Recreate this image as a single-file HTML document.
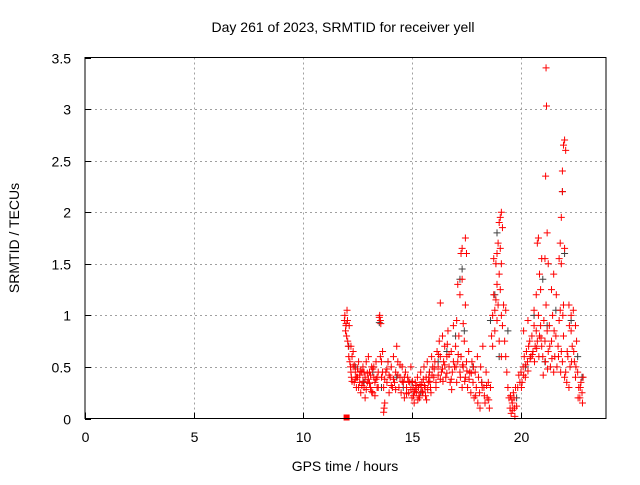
<!DOCTYPE html>
<html><head><meta charset="utf-8"><style>
body{margin:0;background:#fff;}
svg text{font-family:"Liberation Sans",sans-serif;font-size:14px;fill:#000;}
</style></head><body>
<svg id="chart" width="640" height="480" xmlns="http://www.w3.org/2000/svg">
<rect width="640" height="480" fill="#fff"/>
<g id="grid"></g>
<g id="gray"></g>
<g id="red"></g>
<rect x="85" y="57.5" width="521" height="361" fill="none" stroke="#000" stroke-width="1"/>
<g id="ticks"></g>
<text x="343" y="32" text-anchor="middle">Day 261 of 2023, SRMTID for receiver yell</text>
<text x="345" y="471" text-anchor="middle">GPS time / hours</text>
<text x="19" y="238" text-anchor="middle" transform="rotate(-90 19 238)">SRMTID / TECUs</text>
</svg>
<script>
const xTicks=[0,5,10,15,20];
const yTicks=[0,0.5,1,1.5,2,2.5,3,3.5];
const yTickLabels=["0","0.5","1","1.5","2","2.5","3","3.5"];
const redPoints=[
[11.9,0.95],[11.92,1.0],[11.95,0.85],[11.97,0.9],[12.0,0.8],[12.02,1.05],[12.05,0.75],[12.08,0.7],[12.1,0.6],[12.12,0.9],[11.98,0.92],[12.04,0.95],
[12.15,0.55],[12.18,0.5],[12.2,0.45],[12.22,0.4],[12.25,0.6],[12.3,0.5],[12.35,0.35],[12.4,0.45],[12.45,0.3],[12.5,0.4],[12.55,0.55],[12.6,0.35],[12.65,0.25],[12.7,0.45],[12.75,0.5],[12.8,0.3],[12.85,0.4],[12.9,0.55],[12.95,0.35],[13.0,0.6],[13.05,0.45],[13.1,0.3],[13.15,0.5],[13.2,0.25],[13.25,0.4],[13.3,0.35],[13.35,0.55],[13.4,0.3],[13.45,0.45],
[12.2,0.7],[12.3,0.65],[12.4,0.38],[12.5,0.48],[12.6,0.42],[12.7,0.32],[12.8,0.45],[12.9,0.28],[13.0,0.38],[13.1,0.42],[13.2,0.48],[13.3,0.22],[13.4,0.4],[12.25,0.36],[12.35,0.52],[12.45,0.4],[12.55,0.3],[12.65,0.46],[12.75,0.36],[12.85,0.2],[12.95,0.44],[13.05,0.34],[13.15,0.26],[13.25,0.5],[13.35,0.38],[13.45,0.3],
[13.5,0.98],[13.52,1.0],[13.55,0.95],[13.57,0.92],[13.55,0.6],[13.6,0.55],
[13.6,0.4],[13.65,0.65],[13.7,0.3],[13.75,0.15],[13.8,0.45],[13.85,0.35],[13.9,0.55],[13.95,0.25],[14.0,0.4],[14.05,0.5],[14.1,0.3],[14.15,0.6],[14.2,0.35],[14.25,0.45],[14.3,0.7],[14.35,0.55],[14.4,0.3],[14.45,0.4],[14.5,0.25],[14.55,0.5],[14.6,0.35],[14.65,0.2],[14.7,0.45],[14.75,0.3],[14.8,0.4],[14.85,0.25],[14.9,0.35],[14.95,0.5],
[13.65,0.45],[13.75,0.38],[13.85,0.48],[13.95,0.42],[14.05,0.32],[14.15,0.38],[14.25,0.28],[14.35,0.42],[14.45,0.52],[14.55,0.36],[14.65,0.4],[14.75,0.24],[14.85,0.36],[14.95,0.28],[13.7,0.06],[13.72,0.1],
[15.0,0.2],[15.05,0.3],[15.1,0.15],[15.15,0.35],[15.2,0.25],[15.25,0.4],[15.3,0.3],[15.35,0.2],[15.4,0.45],[15.45,0.35],[15.5,0.25],[15.55,0.5],[15.6,0.3],[15.65,0.4],[15.7,0.55],[15.75,0.35],[15.8,0.45],[15.85,0.3],[15.9,0.6],[15.95,0.5],
[15.02,0.36],[15.12,0.26],[15.22,0.32],[15.32,0.22],[15.42,0.3],[15.52,0.38],[15.62,0.22],[15.72,0.28],[15.82,0.36],[15.92,0.42],[15.07,0.22],[15.17,0.28],[15.27,0.18],[15.37,0.33],[15.47,0.26],[15.57,0.32],[15.67,0.18],[15.77,0.4],[15.87,0.25],
[16.0,0.4],[16.05,0.55],[16.1,0.35],[16.15,0.65],[16.2,0.5],[16.25,0.75],[16.3,0.6],[16.35,0.45],[16.4,0.8],[16.3,1.12],[16.45,0.55],[16.5,0.7],[16.55,0.4],[16.6,0.6],[16.65,0.85],[16.7,0.5],[16.75,0.35],[16.8,0.65],[16.85,0.45],[16.9,0.9],[16.95,0.5],
[16.1,0.3],[16.2,0.42],[16.3,0.38],[16.4,0.48],[16.5,0.52],[16.6,0.44],[16.7,0.62],[16.8,0.38],[16.9,0.55],[16.02,0.48],[16.22,0.62],[16.42,0.36],[16.62,0.72],[16.82,0.28],
[17.0,0.7],[17.05,0.35],[17.1,0.55],[17.15,0.8],[17.2,0.45],[17.25,0.6],[17.3,0.3],[17.35,0.5],[17.4,0.75],[17.45,0.4],[17.5,0.55],[17.55,0.3],[17.6,0.65],[17.65,0.45],[17.7,0.25],[17.75,0.55],[17.8,0.35],[17.85,0.2],[17.9,0.45],[17.95,0.3],
[17.02,0.5],[17.12,0.62],[17.22,0.4],[17.32,0.52],[17.42,0.36],[17.52,0.46],[17.62,0.38],[17.72,0.44],[17.82,0.5],[17.92,0.22],
[17.25,1.6],[17.3,1.65],[17.45,1.75],[17.1,1.3],[17.2,1.2],[17.3,1.35],[17.45,1.1],[17.5,1.6],[17.05,0.95],[17.35,0.92],
[18.0,0.6],[18.05,0.4],[18.1,0.25],[18.15,0.5],[18.2,0.35],[18.25,0.7],[18.3,0.3],[18.35,0.15],[18.4,0.45],[18.45,0.2],[18.5,0.35],[18.55,0.1],[18.6,0.3],[18.02,0.15],[18.12,0.1],[18.22,0.3],[18.32,0.22],[18.42,0.32],[18.52,0.18],
[18.65,0.8],[18.7,1.0],[18.75,1.2],[18.8,1.05],[18.85,1.15],[18.9,1.3],[18.95,1.1],[19.0,1.4],[19.05,1.25],[19.1,1.0],[19.15,0.9],[18.7,0.7],[18.8,0.85],[18.9,0.95],[19.0,0.75],[19.1,0.6],
[18.9,1.6],[18.95,1.7],[19.0,1.9],[19.05,1.95],[19.1,2.0],[19.15,1.85],[18.85,1.5],[18.75,1.55],[19.05,1.65],[19.1,1.5],
[19.2,1.1],[19.25,0.75],[19.3,0.6],[19.35,0.45],[19.4,0.3],[19.45,0.2],[19.5,0.1],[19.55,0.05],[19.6,0.15],[19.65,0.25],[19.7,0.1],[19.75,0.3],[19.52,0.22],[19.58,0.18],[19.62,0.08],[19.68,0.2],[19.72,0.02],[19.8,0.12],[19.85,0.3],[19.9,0.42],[19.95,0.35],[19.3,1.05],
[20.0,0.45],[20.05,0.35],[20.1,0.5],[20.15,0.6],[20.2,0.4],[20.25,0.65],[20.3,0.55],[20.35,0.7],[20.4,0.75],[20.45,0.6],[20.5,0.8],[20.55,0.65],[20.6,0.9],[20.65,0.7],[20.7,0.85],[20.75,0.75],[20.8,1.0],[20.85,0.8],[20.9,0.9],[20.95,0.7],
[20.02,0.3],[20.12,0.42],[20.22,0.52],[20.32,0.46],[20.42,0.58],[20.52,0.62],[20.62,0.55],[20.72,0.68],[20.82,0.6],[20.92,0.78],[20.12,0.85],[20.32,0.95],[20.6,1.05],
[20.7,1.2],[20.75,1.7],[20.8,1.75],[20.85,1.4],[20.9,1.25],[20.95,1.55],
[21.0,0.6],[21.05,0.95],[21.1,0.75],[21.15,1.1],[21.2,0.85],[21.25,0.65],[21.3,0.9],[21.35,0.5],[21.4,0.75],[21.45,1.0],[21.5,0.45],[21.55,0.6],[21.6,0.8],[21.65,0.5],[21.7,0.7],[21.75,0.95],[21.8,1.05],[21.85,0.65],[21.9,0.55],[21.95,0.8],
[21.02,0.42],[21.12,0.55],[21.22,0.48],[21.32,0.7],[21.42,0.58],[21.52,0.85],[21.62,1.2],[21.72,0.6],[21.82,0.45],[21.92,1.0],
[21.15,3.4],[21.17,3.03],[21.13,2.35],[21.2,1.8],[21.1,1.55],[21.25,1.5],[21.4,1.25],[21.5,1.4],
[21.8,1.7],[21.85,1.95],[21.9,2.4],[21.95,2.65],[22.0,2.7],[22.05,2.6],[21.9,2.2],[21.75,1.55],[21.85,1.5],[22.0,1.65],[21.95,1.1],[22.0,0.4],
[22.05,0.45],[22.1,0.35],[22.15,0.6],[22.2,0.3],[22.25,0.5],[22.3,0.85],[22.35,0.7],[22.4,1.05],[22.45,0.55],[22.5,0.4],[22.55,0.75],[22.6,0.45],[22.65,0.3],[22.7,0.2],[22.75,0.35],[22.8,0.25],[22.85,0.4],
[22.12,0.65],[22.22,0.9],[22.32,0.55],[22.42,0.65],[22.52,0.5],[22.62,0.2],[22.72,0.3],[22.82,0.15],[22.2,1.1],[22.3,1.0],[22.5,0.9]
];
const grayPoints=[[12.1,0.7],[12.4,0.5],[12.8,0.35],[13.2,0.45],[13.6,0.3],[13.9,0.55],[14.3,0.4],[14.6,0.3],[15.0,0.35],[15.4,0.25],[15.8,0.45],[16.2,0.55],[16.6,0.65],[17.0,0.8],[17.2,1.35],[17.4,0.85],[17.8,0.5],[18.2,0.35],[18.6,0.95],[18.8,1.2],[19.0,0.6],[19.4,0.85],[19.8,0.2],[20.2,0.5],[20.6,1.0],[21.0,1.35],[21.2,0.9],[21.6,1.05],[21.9,2.2],[22.0,1.6],[22.3,0.95],[22.6,0.6],[22.8,0.4],[17.3,1.45],[18.9,1.8],[13.5,0.93],[21.1,0.55]];
const ns="http://www.w3.org/2000/svg";
const L=85,R=606,T=57.5,B=418.5,XMAX=23.9,YMAX=3.5;
const sx=v=>L+(R-L)*v/XMAX, sy=v=>B-(B-T)*v/YMAX;
function mk(t,a,p){const e=document.createElementNS(ns,t);for(const k in a)e.setAttribute(k,a[k]);p.appendChild(e);return e;}
const grid=document.getElementById('grid'),ticks=document.getElementById('ticks');
xTicks.forEach(v=>{const x=Math.round(sx(v))+0.5;
 if(v>0){const g=mk('line',{x1:x,x2:x,y1:T,y2:B,stroke:'#a0a0a0','stroke-dasharray':'2,3'},grid);}
 const t=mk('line',{x1:x,x2:x,y1:B,y2:B-6,stroke:'#000'},ticks);
 const l=mk('text',{x:x,y:442,'text-anchor':'middle'},ticks);l.textContent=v;});
yTicks.forEach((v,i)=>{const y=Math.round(sy(v))+0.5;
 if(v>0&&v<3.5){const g=mk('line',{x1:L,x2:R,y1:y,y2:y,stroke:'#a0a0a0','stroke-dasharray':'2,3'},grid);}
 const t=mk('line',{x1:L,x2:L+6,y1:y,y2:y,stroke:'#000'},ticks);
 const l=mk('text',{x:71,y:y+5,'text-anchor':'end'},ticks);l.textContent=yTickLabels[i];});
function plus(x,y,c,p){const X=sx(x),Y=sy(y);const e=mk('path',{d:`M${X-3.5},${Y}h7M${X},${Y-3.5}v7`,stroke:c,'stroke-width':1,fill:'none'},p);}
const gg=document.getElementById('gray'),rg=document.getElementById('red');
grayPoints.forEach(p=>plus(p[0],p[1],'#404040',gg));
redPoints.forEach(p=>plus(p[0],p[1],'#ff0000',rg));
const sq=mk('rect',{x:sx(12.0)-3,y:B-4,width:6,height:6,fill:'#ff0000'},rg);


</script>
</body></html>
